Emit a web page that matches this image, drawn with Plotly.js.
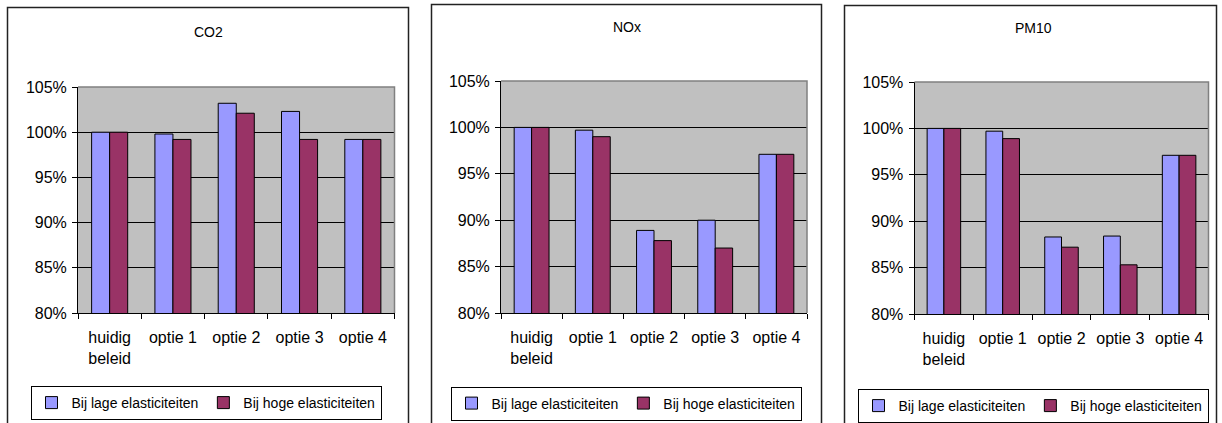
<!DOCTYPE html>
<html>
<head>
<meta charset="utf-8">
<script src="https://cdn.plot.ly/plotly-3.0.1.min.js"></script>
<style>
  html, body { margin: 0; padding: 0; background: #fff; }
  #chart { width: 1222px; height: 423px; }
</style>
</head>
<body>
<div id="chart"></div>
<script>
// Scenario labels along the category axis
const categories = ["huidig<br>beleid", "optie 1", "optie 2", "optie 3", "optie 4"];

// Emissions relative to current policy (%), per pollutant and elasticity assumption
const co2Laag  = [100, 99.8, 103.2, 102.3, 99.2];
const co2Hoog  = [100, 99.2, 102.1, 99.2, 99.2];
const noxLaag  = [100, 99.7, 88.9, 90.0, 97.1];
const noxHoog  = [100, 99.0, 87.8, 87.0, 97.1];
const pm10Laag = [100, 99.7, 88.3, 88.4, 97.1];
const pm10Hoog = [100, 98.9, 87.2, 85.3, 97.1];

const panelTitles = ["CO2", "NOx", "PM10"];
const seriesNames = ["Bij lage elasticiteiten", "Bij hoge elasticiteiten"];
const yTicks = [80, 85, 90, 95, 100, 105];
const yTickText = ["80%", "85%", "90%", "95%", "100%", "105%"];

const W = 1222, H = 423;
const px = x => x / W;
const py = y => 1 - y / H;
const FONT = "Liberation Sans, Arial, sans-serif";
const LAAG = "#9999FF", HOOG = "#993366";

// Pixel geometry of each panel: frame, plot area, title and legend anchor
const panels = [
  { frame: [7.5, 7.5, 408.5, 440], plot: [78, 87, 394.5, 313], title: [208, 32], legend: [206, 403] },
  { frame: [431.5, 4.5, 821.5, 440], plot: [501, 81, 807, 313], title: [627, 27], legend: [626, 403.5] },
  { frame: [844.5, 5.5, 1216.5, 440], plot: [914.5, 82, 1208.5, 314], title: [1033, 28], legend: [1033, 406] }
];

const seriesData = [[co2Laag, co2Hoog], [noxLaag, noxHoog], [pm10Laag, pm10Hoog]];

const traces = [];
const layout = {
  width: W, height: H,
  margin: { l: 0, r: 0, t: 0, b: 0 },
  paper_bgcolor: "#ffffff",
  plot_bgcolor: "#C0C0C0",
  barmode: "group",
  bargap: 0.43,
  bargroupgap: 0,
  font: { family: FONT, color: "#000", size: 15 },
  shapes: [],
  annotations: []
};

panels.forEach((p, i) => {
  const n = i === 0 ? "" : String(i + 1);
  const xa = "x" + n, ya = "y" + n;
  const legendId = "legend" + n;

  seriesData[i].forEach((vals, k) => {
    traces.push({
      type: "bar",
      x: categories,
      y: vals,
      name: seriesNames[k],
      xaxis: xa, yaxis: ya,
      legend: legendId,
      marker: { color: k === 0 ? LAAG : HOOG, line: { color: "#000", width: 1 } },
      hoverinfo: "x+y+name"
    });
  });

  layout["xaxis" + n] = {
    domain: [px(p.plot[0]), px(p.plot[2])],
    anchor: ya,
    type: "category",
    tickson: "boundaries",
    ticks: "outside", ticklen: 5, tickcolor: "#000", tickwidth: 1,
    showline: true, linecolor: "#000", linewidth: 1,
    showgrid: false, zeroline: false,
    tickfont: { family: FONT, size: 16, color: "#000" },
    ticklabelstandoff: 10,
    fixedrange: true
  };
  layout["yaxis" + n] = {
    domain: [py(p.plot[3]), py(p.plot[1])],
    anchor: xa,
    range: [80, 105],
    tickmode: "array",
    tickvals: yTicks,
    ticktext: yTickText,
    ticks: "outside", ticklen: 5, tickcolor: "#000", tickwidth: 1,
    showline: true, linecolor: "#000", linewidth: 1,
    showgrid: true, gridcolor: "#000", gridwidth: 1,
    zeroline: false,
    tickfont: { family: FONT, size: 16, color: "#000" },
    ticklabelstandoff: 2,
    fixedrange: true
  };

  // Grey border along the top and right of the plot area
  layout.shapes.push({
    type: "path", layer: "above",
    xref: "paper", yref: "paper",
    path: "M" + px(p.plot[0]) + "," + py(p.plot[1]) +
          " L" + px(p.plot[2]) + "," + py(p.plot[1]) +
          " L" + px(p.plot[2]) + "," + py(p.plot[3]),
    line: { color: "#808080", width: 1.5 }
  });

  // Chart frame
  layout.shapes.push({
    type: "rect", xref: "paper", yref: "paper",
    x0: px(p.frame[0]), x1: px(p.frame[2]),
    y0: py(p.frame[3]), y1: py(p.frame[1]),
    line: { color: "#222", width: 1.5 }
  });

  layout.annotations.push({
    xref: "paper", yref: "paper",
    x: px(p.title[0]), y: py(p.title[1]),
    xanchor: "center", yanchor: "middle",
    text: panelTitles[i], showarrow: false,
    font: { family: FONT, size: 14, color: "#000" }
  });

  layout[legendId] = {
    orientation: "h",
    x: px(p.legend[0]), y: py(p.legend[1]),
    xanchor: "center", yanchor: "middle",
    xref: "paper", yref: "paper",
    bgcolor: "#ffffff",
    bordercolor: "#000", borderwidth: 1,
    font: { family: FONT, size: 14, color: "#000" },
    itemwidth: 30,
    tracegroupgap: 0,
    traceorder: "normal"
  };
});

Plotly.newPlot("chart", traces, layout, { displayModeBar: false, staticPlot: true });
</script>
</body>
</html>
